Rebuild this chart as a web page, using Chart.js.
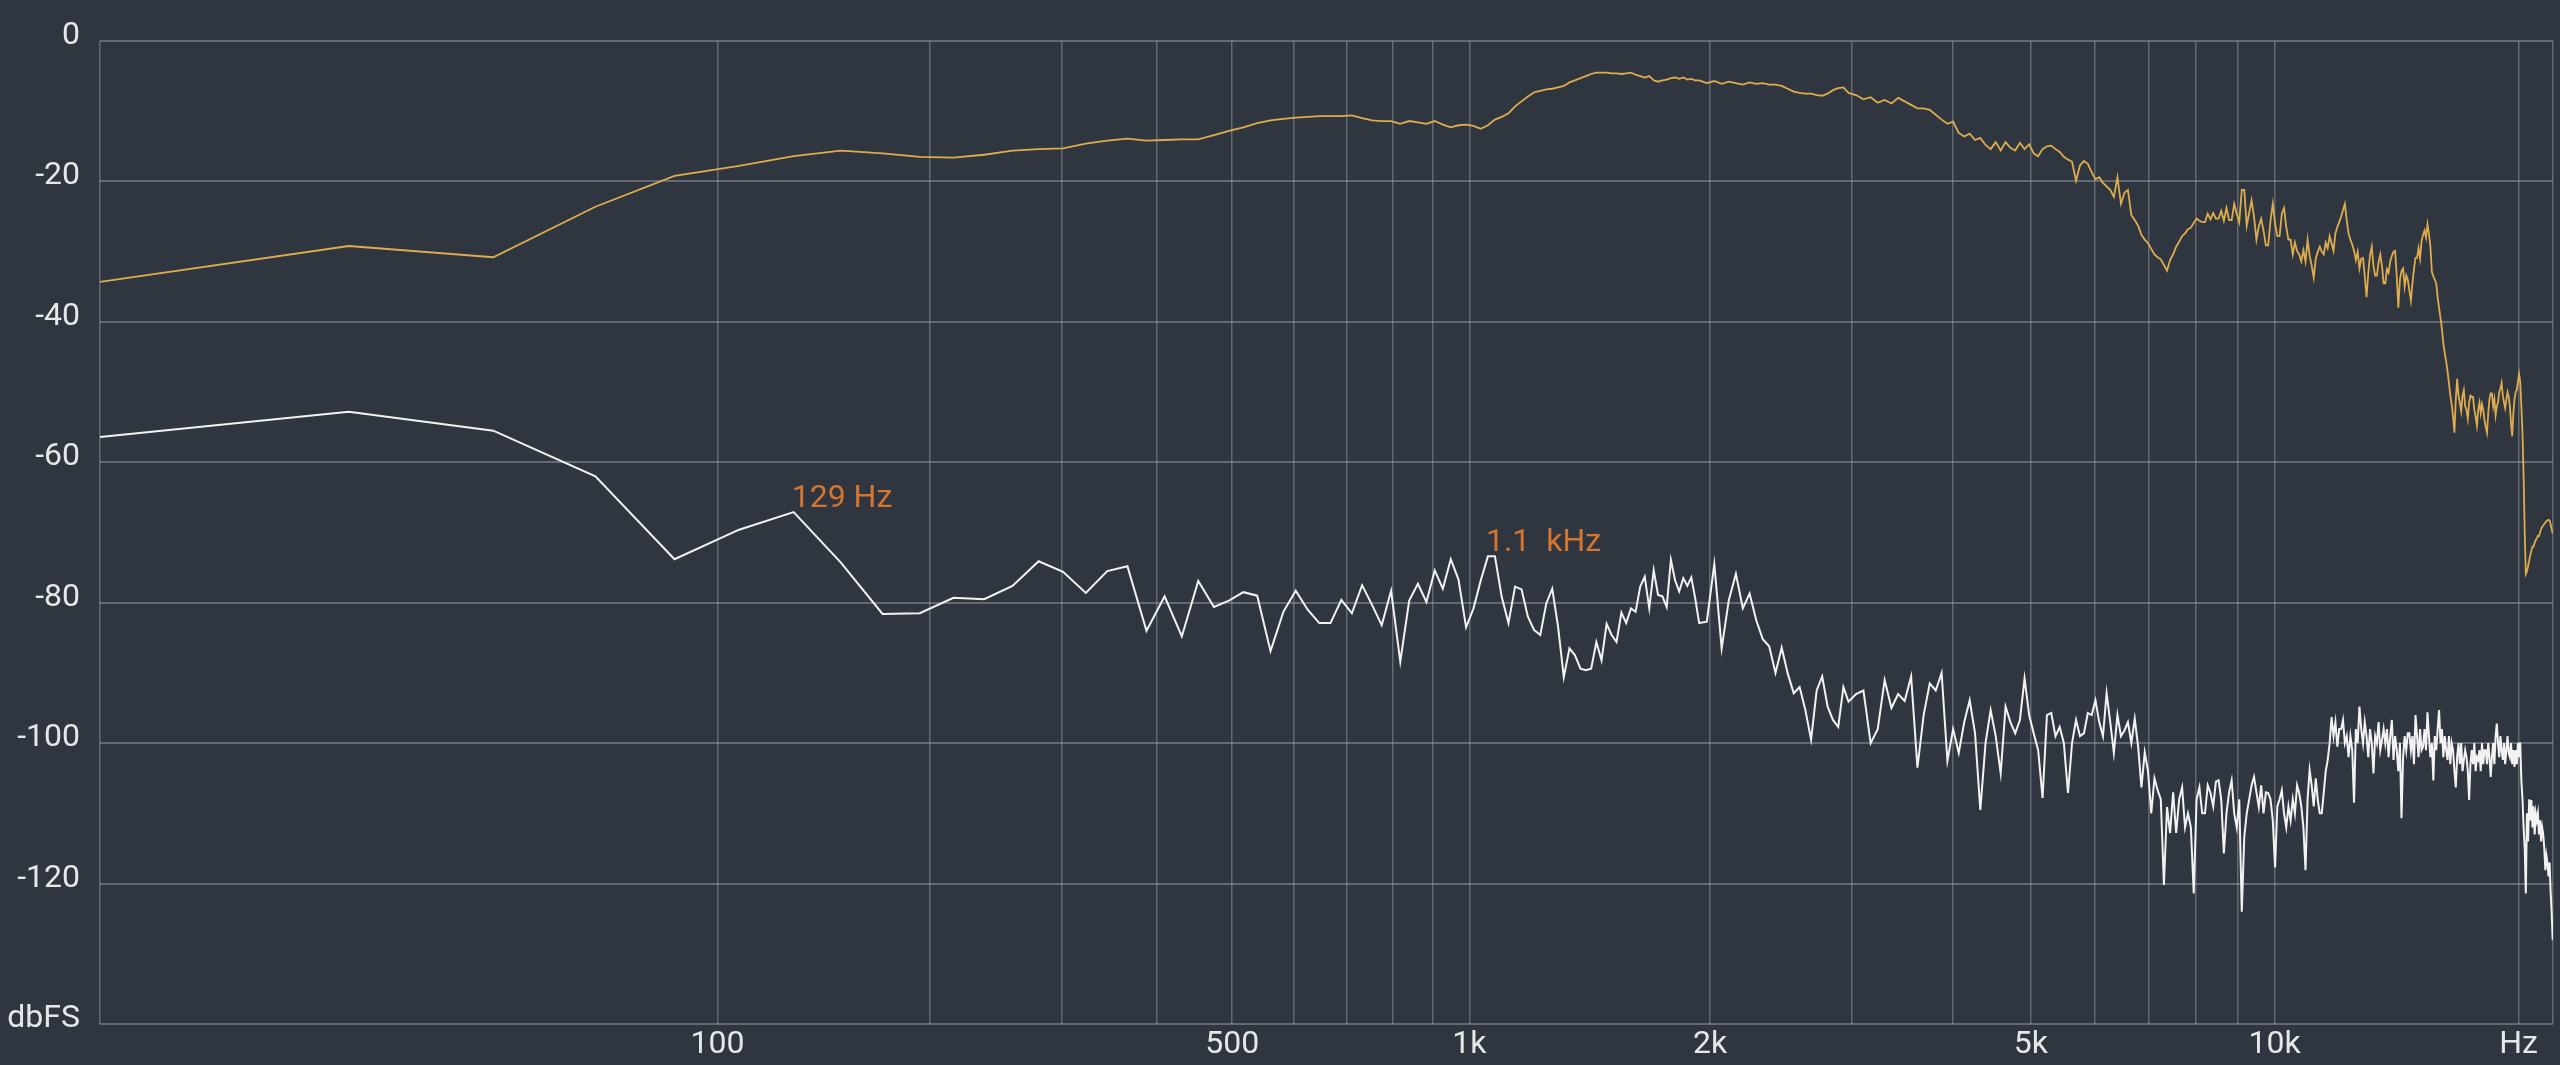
<!DOCTYPE html>
<html>
<head>
<meta charset="utf-8">
<title>Spectrum</title>
<style>
  html, body { margin: 0; padding: 0; background: #30363f; }
  #wrap { width: 2560px; height: 1065px; }
</style>
<script src="https://cdn.jsdelivr.net/npm/chart.js@4.4.1/dist/chart.umd.min.js"></script>
</head>
<body>
<div id="wrap"><canvas id="spectrum" width="2560" height="1065"></canvas></div>
<script>
// ─── FFT spectrum, 1024 bins up to 22.05 kHz ──────────────────────────────────

const binHz = 22050 / 1024;

// bins drawn: every bin at the low end, then thinner as the scale squeezes up
const lowBins = { first: 0, last: 89, step: 1 };
const midBins = { first: 90, last: 138, step: 2 };
const highBins = { first: 141, last: 1023, step: 3 };

// orange trace (input), dBFS
const inputLow = [
  -34.3, -29.2, -30.8, -23.6, -19.2, -17.8, -16.4, -15.6, -16.0, -16.5,
  -16.6, -16.2, -15.6, -15.4, -15.3, -14.6, -14.2, -13.9, -14.2, -14.1,
  -14.0, -14.0, -13.4, -12.8, -12.3, -11.7, -11.3, -11.1, -10.9, -10.8,
  -10.7, -10.7, -10.7, -10.6, -11.0, -11.3, -11.4, -11.4, -11.8, -11.4,
  -11.6, -11.8, -11.4, -11.9, -12.3, -12.0, -11.9, -12.1, -12.5, -12.0,
  -11.2, -10.8, -10.3, -9.3, -8.6, -7.9, -7.3, -7.1, -6.9, -6.8,
  -6.6, -6.4, -5.9, -5.6, -5.3, -5.0, -4.7, -4.5, -4.5, -4.5,
  -4.6, -4.6, -4.7, -4.6, -4.5, -4.8, -5.0, -5.2, -5.0, -5.6,
  -5.8, -5.6, -5.5, -5.3, -5.2, -5.4, -5.2, -5.5, -5.4, -5.6
];
const inputMid = [
  -5.6, -6.0, -5.7, -6.1, -5.8, -6.0, -6.2, -5.9, -6.1, -6.0,
  -6.2, -6.2, -6.4, -6.8, -7.2, -7.4, -7.5, -7.5, -7.7, -7.8,
  -7.5, -7.0, -6.7, -6.6, -7.4
];
const inputHigh = [
  -7.7, -8.3, -8.0, -8.8, -8.4,   -8.9, -8.1, -8.6, -9.1, -9.6,
  -9.6, -9.8, -10.5, -11.2, -11.8,   -11.5, -13.1, -13.6, -13.2, -14.1,
  -13.8, -14.8, -15.4, -14.4, -15.6,   -14.4, -15.2, -15.6, -14.5, -15.4,
  -14.7, -16.0, -16.4, -15.4, -15.0,   -14.9, -15.4, -15.8, -16.5, -16.9,
  -17.2, -19.9, -17.7, -17.1, -17.5,   -18.7, -19.7, -19.4, -20.2, -20.7,
  -21.2, -22.2, -19.4, -23.2, -21.6,   -21.2, -24.8, -25.5, -26.3, -27.6,
  -28.3, -28.8, -29.6, -30.4, -30.8,   -31.1, -31.9, -32.7, -31.2, -30.4,
  -29.3, -28.6, -27.8, -27.4, -26.8,   -26.6, -25.9, -25.3, -25.6, -25.8,
  -25.8, -24.6, -25.4, -24.5, -25.3,   -25.3, -24.2, -25.6, -23.8, -25.5,
  -25.5, -23.2, -24.6, -25.8, -21.2,   -21.2, -26.3, -24.5, -22.7, -25.0,
  -28.3, -26.4, -25.3, -27.0, -29.1,   -29.1, -25.6, -23.2, -26.0, -27.8,
  -27.8, -24.6, -23.8, -26.5, -28.3,   -28.3, -30.4, -28.7, -29.9, -30.4,
  -31.4, -29.8, -31.4, -28.3, -30.6,   -32.0, -33.7, -31.0, -30.0, -29.3,
  -30.0, -30.4, -28.7, -29.5, -27.8,   -28.8, -29.9, -27.4, -26.5, -25.8,
  -25.0, -24.1, -23.2, -25.5, -27.4,   -28.3, -29.0, -29.9, -31.2, -30.0,
  -32.4, -31.0, -30.9, -33.5, -36.5,   -33.0, -30.5, -29.3, -32.0, -33.4,
  -33.4, -31.5, -30.4, -32.0, -34.5,   -34.5, -32.5, -33.0, -31.4, -30.6,
  -30.0, -29.9, -33.5, -38.0, -34.0,   -32.8, -32.4, -35.0, -33.4, -34.0,
  -35.5, -37.0, -34.5, -32.5, -30.9,   -30.9, -29.5, -31.0, -28.5, -27.6,
  -27.0, -28.0, -26.1, -27.5, -29.3,   -32.9, -33.5, -34.0, -34.5, -36.5,
  -38.0, -39.5, -41.0, -43.1, -44.5,   -45.6, -47.0, -48.7, -50.5, -51.7,
  -53.5, -55.8, -51.0, -48.1, -50.5,   -51.5, -52.7, -50.5, -49.7, -52.0,
  -52.5, -53.8, -51.5, -50.5, -50.7,   -50.7, -52.5, -53.5, -54.8, -52.5,
  -51.5, -53.0, -51.7, -52.5, -54.0,   -55.0, -55.8, -53.0, -51.0, -50.2,
  -50.2, -52.0, -51.0, -53.3, -52.0,   -51.5, -50.0, -49.5, -48.7, -50.5,
  -51.5, -52.3, -51.0, -50.0, -50.7,   -52.0, -54.5, -56.3, -53.0, -51.0,
  -50.0, -49.7, -48.5, -47.4, -48.5,   -52.0, -55.8, -62.0, -70.0, -75.9,
  -75.5, -74.8, -74.0, -73.2, -72.6,   -72.0, -72.0, -71.5, -71.1, -70.8,
  -70.5, -70.5, -70.0, -69.5, -69.2,   -69.0, -68.8, -68.6, -68.4, -68.3,
  -68.2, -68.3, -68.8, -69.5, -70.1
];

// white trace (noise floor), dBFS
const noiseLow = [
  -56.4, -52.8, -55.5, -62.0, -73.8, -69.6, -67.1, -74.3, -81.6, -81.5,
  -79.3, -79.5, -77.6, -74.1, -75.6, -78.6, -75.5, -74.8, -84.0, -79.1,
  -84.8, -76.9, -80.6, -79.7, -78.5, -79.0, -86.9, -81.3, -78.3, -81.0,
  -82.9, -82.9, -79.6, -81.5, -77.5, -80.3, -83.2, -78.3, -88.4, -79.7,
  -77.3, -79.9, -75.4, -78.0, -73.8, -76.7, -83.5, -80.8, -76.8, -73.4,
  -73.4, -79.2, -82.9, -77.7, -78.1, -82.0, -83.9, -84.6, -80.1, -78.0,
  -83.4, -90.6, -86.5, -87.5, -89.4, -89.6, -89.4, -85.6, -88.2, -83.0,
  -84.6, -85.6, -81.4, -82.9, -80.8, -81.3, -77.7, -76.3, -80.8, -75.4,
  -78.9, -79.1, -80.6, -73.9, -76.8, -78.4, -76.5, -77.6, -76.4, -79.4
];
const noiseMid = [
  -82.9, -82.7, -74.5, -86.5, -79.6, -75.9, -80.8, -78.7, -82.5, -85.2,
  -86.2, -90.0, -86.4, -90.1, -92.9, -92.0, -95.3, -99.5, -92.5, -90.5,
  -94.8, -96.7, -97.7, -92.0, -94.1
];
const noiseHigh = [
  -93, -92.5, -100, -98, -91,   -95, -93, -94, -90.5, -103.5,
  -96, -91.5, -92.5, -90, -102.5,   -98, -101.4, -97, -93.9, -98.6,
  -109.5, -100, -95.3, -99, -104.3,   -94.8, -97, -98.6, -96.7, -90.8,
  -96, -98.6, -101, -107.8, -96,   -95.7, -99, -97.7, -100, -107.1,
  -100, -96.7, -99, -98.6, -95.7,   -96, -93.9, -97, -99, -92.9,
  -97, -101.4, -96, -99, -98.2,   -97, -100, -96.5, -100.5, -106.3,
  -101.3, -104, -110, -105, -106.7,   -108, -120.2, -109.1, -112.8, -107,
  -112.8, -108, -106.3, -112, -110,   -112, -121.4, -108, -106.3, -110,
  -110, -106, -107.1, -109, -105.5,   -105.3, -108, -115.7, -110, -107,
  -105.3, -110, -112, -108, -124,   -113.4, -110, -108, -106, -104.8,
  -107, -109.1, -106, -110, -107,   -107.1, -108, -111, -117.7, -109,
  -108, -106.7, -110, -112, -109,   -111, -108, -110, -106, -107.1,
  -109, -112, -118.1, -108, -103.8,   -106, -109, -105, -108.1, -110,
  -110, -107, -104, -102.4, -100,   -96.3, -99, -97, -100.5, -98,
  -98, -96.7, -100, -99, -102,   -99, -101, -108.5, -98, -100,
  -94.8, -98, -100, -97, -99,   -102, -98, -100, -104.3, -99,
  -100, -97, -101, -99.6, -98,   -100, -98, -102, -99, -96.7,
  -102.4, -99, -101, -104, -100,   -110.7, -102, -99, -101, -98.6,
  -98.6, -101, -99, -103, -96,   -99, -102, -98, -101, -100.5,
  -98, -101, -95.6, -99, -102,   -100, -105.3, -99, -101, -98,
  -95.3, -100, -98, -102, -99,   -101, -102.4, -99, -103, -100,
  -101, -104, -106.3, -102, -100,   -103, -100, -104, -102.4, -101,
  -102, -104, -108.1, -103, -101,   -103, -100, -104, -102, -102.4,
  -101, -104, -100, -103, -101,   -101, -103, -100, -102, -104.8,
  -102, -100, -103, -99, -97.2,   -100, -102, -99, -101, -102.4,
  -100, -103, -101, -99, -101.4,   -102, -100, -103, -101, -103.4,
  -101, -103, -100, -102, -99.9,   -105.3, -108, -112, -115, -121.4,
  -110, -114, -108, -111, -108.1,   -112, -109, -113, -110, -111,
  -110, -113, -111, -114, -112,   -113, -115, -118.1, -116, -117,
  -119, -117, -121, -124, -128
];

// axis
const gridFreqs = [0, 100, 200, 300, 400, 500, 600, 700, 800, 900, 1000,
  2000, 3000, 4000, 5000, 6000, 7000, 8000, 9000, 10000, 20000, 22050];
const freqLabels = { 100: '100', 500: '500', 1000: '1k', 2000: '2k', 5000: '5k', 10000: '10k', 20000: 'Hz' };
const dbTicks = [0, -20, -40, -60, -80, -100, -120, -140];

// peak captions on the white trace
const peakNotes = [
  { bin: 6, text: '129 Hz' },
  { bin: 49, text: '1.1  kHz' }
];

// ─── helpers ─────────────────────────────────────────────────────────────────

function binList(seg) {
  const out = [];
  for (let k = seg.first; k <= seg.last; k += seg.step) out.push(k);
  return out;
}

const bins = [...binList(lowBins), ...binList(midBins), ...binList(highBins)];

function toPoints(values) {
  return bins.map((k, i) => ({ x: k * binHz, y: values[i] }));
}

// frequency axis: log of (f + 21 Hz), which keeps 0 Hz on the left edge
const warp = f => Math.log10(f + 21);

class FreqScale extends Chart.LinearScale {
  getPixelForValue(value) {
    const a = warp(this.min), b = warp(this.max);
    return this.getPixelForDecimal((warp(value) - a) / (b - a));
  }
  getValueForPixel(pixel) {
    const a = warp(this.min), b = warp(this.max);
    return Math.pow(10, a + this.getDecimalForPixel(pixel) * (b - a)) - 21;
  }
}
FreqScale.id = 'freq';
FreqScale.defaults = {};
Chart.register(FreqScale);

const peakCaptions = {
  id: 'peakCaptions',
  afterDatasetsDraw(chart) {
    const meta = chart.getDatasetMeta(1);
    const ctx = chart.ctx;
    ctx.save();
    ctx.font = '400 32px Roboto';
    ctx.fillStyle = '#d4762f';
    ctx.textAlign = 'left';
    ctx.textBaseline = 'alphabetic';
    peakNotes.forEach(p => {
      const pt = meta.data[bins.indexOf(p.bin)];
      if (pt) ctx.fillText(p.text, pt.x - 2, pt.y - 5);
    });
    ctx.restore();
  }
};

// ─── chart ───────────────────────────────────────────────────────────────────

Chart.defaults.font.family = 'Roboto';
Chart.defaults.font.size = 32;
Chart.defaults.color = '#e6e7e9';

const gridColor = 'rgba(150,158,168,0.5)';

new Chart(document.getElementById('spectrum'), {
  type: 'line',
  data: {
    datasets: [
      { label: 'Input', data: toPoints([...inputLow, ...inputMid, ...inputHigh]),
        borderColor: '#dcac4e', borderWidth: 1.8, pointRadius: 0, tension: 0, fill: false },
      { label: 'Noise', data: toPoints([...noiseLow, ...noiseMid, ...noiseHigh]),
        borderColor: '#f2f2f2', borderWidth: 2, pointRadius: 0, tension: 0, fill: false }
    ]
  },
  options: {
    responsive: false,
    devicePixelRatio: 1,
    animation: false,
    events: [],
    layout: { padding: { top: 41, right: 7, bottom: 0, left: 0 } },
    plugins: { legend: { display: false }, tooltip: { enabled: false } },
    scales: {
      x: {
        type: 'freq',
        min: 0,
        max: 22050,
        afterBuildTicks: s => { s.ticks = gridFreqs.map(v => ({ value: v })); },
        afterFit: s => { s.height = 41; },
        grid: { color: gridColor, lineWidth: 1.5, drawTicks: false },
        border: { display: false },
        ticks: { autoSkip: false, maxRotation: 0, padding: 2, callback: v => freqLabels[v] || '' }
      },
      y: {
        min: -140,
        max: 0,
        afterBuildTicks: s => { s.ticks = dbTicks.map(v => ({ value: v })); },
        afterFit: s => { s.width = 100; },
        grid: { color: gridColor, lineWidth: 2, drawTicks: false },
        border: { display: false },
        ticks: { padding: 20, labelOffset: -5, callback: v => (v === -140 ? 'dbFS' : String(v)) }
      }
    }
  },
  plugins: [peakCaptions]
});
</script>
</body>
</html>
